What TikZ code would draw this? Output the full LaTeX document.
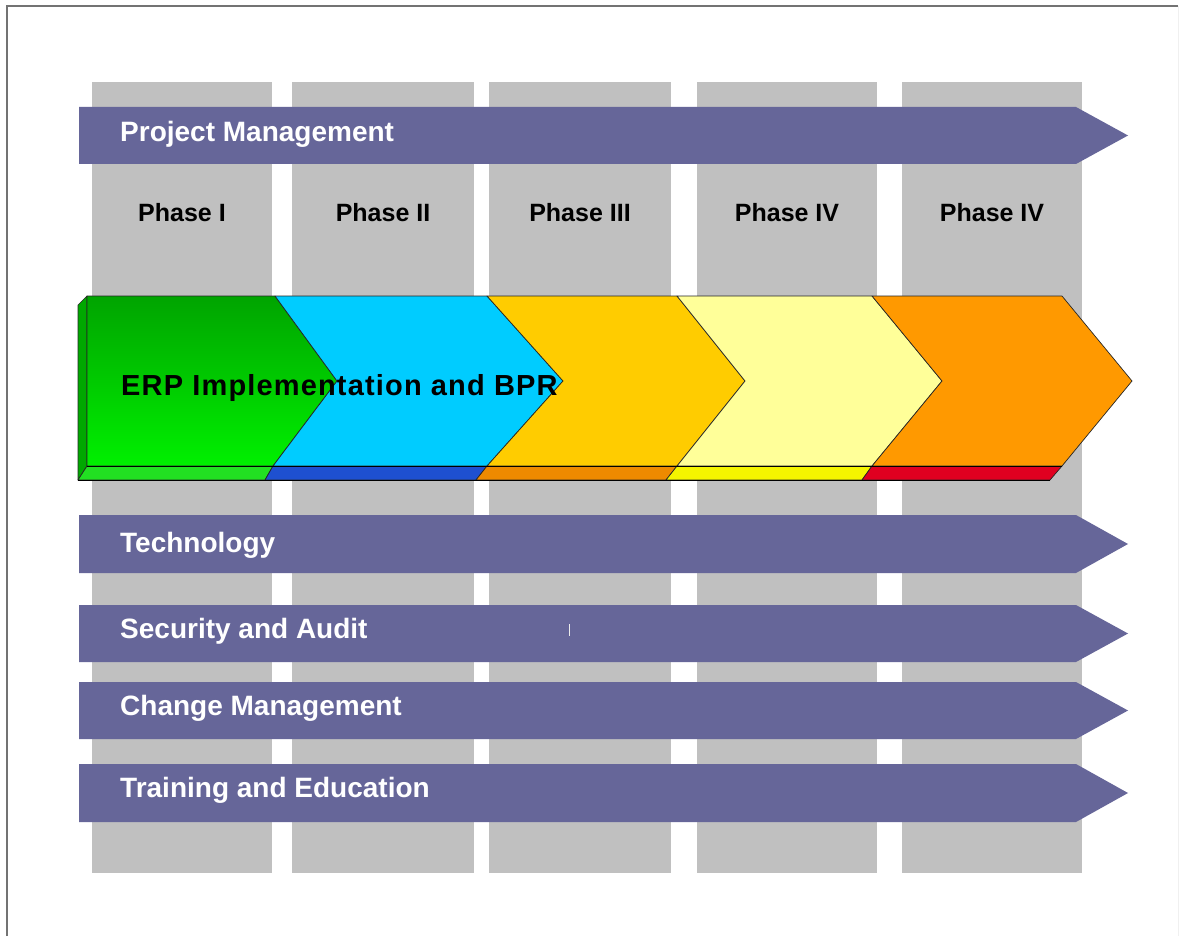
\documentclass[tikz,border=0pt]{standalone}
\usepackage{fontspec}
\setmainfont{Liberation Sans}
\definecolor{colgray}{HTML}{C0C0C0}
\definecolor{barpurple}{HTML}{666699}
\definecolor{gTop}{HTML}{00A400}
\definecolor{gBot}{HTML}{00F000}
\definecolor{gSide}{HTML}{00A800}
\definecolor{fBlue}{HTML}{00CCFF}
\definecolor{fGold}{HTML}{FFCC00}
\definecolor{fPale}{HTML}{FFFF99}
\definecolor{fOrange}{HTML}{FF9900}
\definecolor{sGreen}{HTML}{22E022}
\definecolor{sBlue}{HTML}{1E50D0}
\definecolor{sOrange}{HTML}{EE8A00}
\definecolor{sYellow}{HTML}{F5F500}
\definecolor{sRed}{HTML}{E00020}
\begin{document}
\begin{tikzpicture}[x=1pt,y=-1pt,
  colbox/.style={fill=colgray},
  barshape/.style={fill=barpurple},
  barlabel/.style={text=white,font=\bfseries\fontsize{28}{31}\selectfont,anchor=base west,inner sep=0pt},
  phaselabel/.style={text=black,font=\bfseries\fontsize{25}{28}\selectfont,anchor=base,inner sep=0pt},
  faceline/.style={draw=black!85,line width=0.7pt,line join=round},
  edgeline/.style={draw=black,line width=1pt}]
\useasboundingbox (0,0) rectangle (1182,936);
\fill[white] (0,0) rectangle (1182,936);
% frame
\draw[black!55,line width=2pt] (7,936) -- (7,6) -- (1178,6);
\draw[black!6,line width=1pt] (1178,6) -- (1178,936);
% gray columns
\foreach \a/\b in {92/272,292/474,489/671,697/877,902/1082}
  \fill[colbox] (\a,82) rectangle (\b,873);
% purple bars
\foreach \t/\u in {107/164,515/573,605/662,682/739,764/822}
  \fill[barshape] (79,\t) -- (1076,\t) -- (1128,{(\t+\u)/2}) -- (1076,\u) -- (79,\u) -- cycle;
\draw[white!85!gray,line width=1pt] (569,624) -- (569,636);
% bar labels
\node[barlabel] (pm) at (120,142) {Project Management};
\node[barlabel] (tech) at (120,552) {Technology};
\node[barlabel] (sec) at (120,638) {Security and Audit};
\node[barlabel] (chg) at (120,715) {Change Management};
\node[barlabel] (trn) at (120,797) {Training and Education};
% phase labels
\node[phaselabel] (p1) at (182,221) {Phase I};
\node[phaselabel] (p2) at (383,221) {Phase II};
\node[phaselabel] (p3) at (580,221) {Phase III};
\node[phaselabel] (p4) at (787,221) {Phase IV};
\node[phaselabel] (p5) at (992,221) {Phase IV};
% chevron band: side and base strips
\fill[gSide,faceline] (78,305) -- (87,296) -- (87,466) -- (78,480) -- cycle;
\fill[sGreen,faceline] (87,466) -- (273,466) -- (265,480) -- (78,480) -- cycle;
\fill[sBlue,faceline] (273,466) -- (487,466) -- (476,480) -- (265,480) -- cycle;
\fill[sOrange,faceline] (487,466) -- (677,466) -- (666,480) -- (476,480) -- cycle;
\fill[sYellow,faceline] (677,466) -- (872,466) -- (862,480) -- (666,480) -- cycle;
\fill[sRed,faceline] (872,466) -- (1062,466) -- (1050,480) -- (862,480) -- cycle;
% faces
\path[top color=gTop,bottom color=gBot,faceline] (87,296) -- (275,296) -- (337,381) -- (273,466) -- (87,466) -- cycle;
\fill[fBlue,faceline] (275,296) -- (487,296) -- (563,381) -- (487,466) -- (273,466) -- (337,381) -- cycle;
\fill[fGold,faceline] (487,296) -- (677,296) -- (745,381) -- (677,466) -- (487,466) -- (563,381) -- cycle;
\fill[fPale,faceline] (677,296) -- (872,296) -- (942,381) -- (872,466) -- (677,466) -- (745,381) -- cycle;
\fill[fOrange,faceline] (872,296) -- (1062,296) -- (1132,381) -- (1062,466) -- (872,466) -- (942,381) -- cycle;
\draw[edgeline] (78,480) -- (1050,480);
\draw[edgeline] (87,466) -- (1062,466);
\node[anchor=base west,inner sep=0pt,font=\bfseries\fontsize{29}{32}\selectfont\addfontfeature{LetterSpace=4}] (erp) at (121,395) {ERP Implementation and BPR};
\end{tikzpicture}
\end{document}
